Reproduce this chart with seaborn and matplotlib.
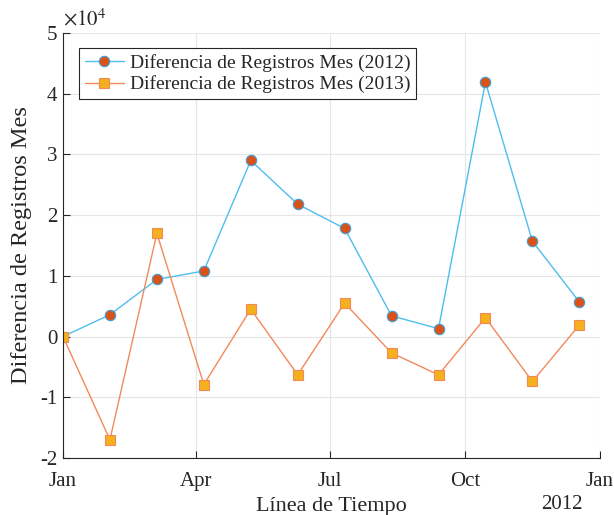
import matplotlib
matplotlib.use("Agg")
import matplotlib.pyplot as plt
import seaborn as sns
import pandas as pd

fechas = ["2012-01-01", "2012-02-02", "2012-03-05", "2012-04-06", "2012-05-08", "2012-06-09",
          "2012-07-11", "2012-08-12", "2012-09-13", "2012-10-15", "2012-11-16", "2012-12-18"]
dif_2012 = [0, 3600, 9400, 10800, 29000, 21800, 17800, 3400, 1300, 41900, 15700, 5700]
dif_2013 = [0, -17000, 17000, -7900, 4500, -6300, 5500, -2700, -6300, 3100, -7400, 1900]
etiquetas = ["Diferencia de Registros Mes (2012)", "Diferencia de Registros Mes (2013)"]
yticks = [-2, -1, 0, 1, 2, 3, 4, 5]
xtick_fechas = ["2012-01-01", "2012-04-01", "2012-07-01", "2012-10-01", "2013-01-01"]
xtick_labels = ["Jan", "Apr", "Jul", "Oct", "Jan"]

sns.set_style("whitegrid")
plt.rcParams["font.family"] = ["Liberation Serif", "DejaVu Serif"]
plt.rcParams["mathtext.fontset"] = "stix"

df = pd.DataFrame({"fecha": pd.to_datetime(fechas),
                   "v2012": [v / 1e4 for v in dif_2012],
                   "v2013": [v / 1e4 for v in dif_2013]})

fig = plt.figure(figsize=(6.14, 5.15), dpi=100)
ax = fig.add_axes([0.1026, 0.1107, 0.8744, 0.8253])

sns.lineplot(data=df, x="fecha", y="v2012", ax=ax, color="#4DBEEE", lw=1.0,
             marker="o", markersize=7.5, markerfacecolor="#D95319", markeredgecolor="#3F9FD8",
             markeredgewidth=0.8, label=etiquetas[0])
sns.lineplot(data=df, x="fecha", y="v2013", ax=ax, color="#F2895A", lw=1.0,
             marker="s", markersize=6.5, markerfacecolor="#F5B01E", markeredgecolor="#F2895A",
             markeredgewidth=0.8, label=etiquetas[1])

ax.set_xlim(pd.Timestamp("2012-01-01"), pd.Timestamp("2013-01-01"))
ax.set_ylim(-2, 5)
ax.set_yticks(yticks)
ax.set_yticklabels([str(t) for t in yticks])
ax.set_xticks(pd.to_datetime(xtick_fechas))
ax.set_xticklabels(xtick_labels)

ax.grid(True, color="#E6E6E6", lw=0.8)
for s in ["top", "right"]:
    ax.spines[s].set_visible(False)
for s in ["left", "bottom"]:
    ax.spines[s].set_color("#262626")
    ax.spines[s].set_linewidth(0.8)
ax.tick_params(axis="both", direction="in", length=5, width=0.8, color="#262626",
               labelsize=15, labelcolor="#262626", left=True, bottom=True)
ax.tick_params(axis="x", pad=10)
ax.tick_params(axis="y", pad=4)

ax.set_xlabel("Línea de Tiempo", fontsize=16, color="#262626")
ax.set_ylabel("Diferencia de Registros Mes", fontsize=17.5, color="#262626", labelpad=6)
ax.xaxis.set_label_coords(0.5, -0.092)
ax.text(0.0, 1.005, r"$\times 10^{4}$", transform=ax.transAxes, fontsize=15,
        color="#262626", ha="left", va="bottom")
ax.text(0.93, -0.088, "2012", transform=ax.transAxes, fontsize=15, color="#262626",
        ha="center", va="top")

leg = ax.legend(loc="upper left", bbox_to_anchor=(0.03, 0.965), fontsize=14, frameon=True,
                fancybox=False, edgecolor="#262626", framealpha=1, borderpad=0.3,
                handlelength=2.0, handletextpad=0.3, labelspacing=0.2, borderaxespad=0)
leg.get_frame().set_linewidth(0.8)

fig.savefig("out.png", dpi=100)
